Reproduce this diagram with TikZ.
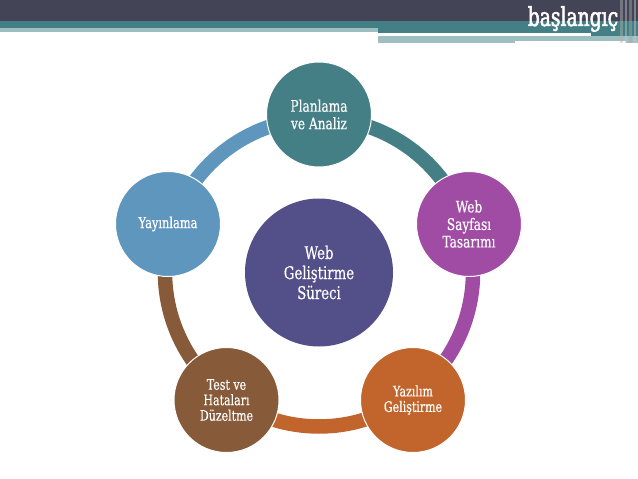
\documentclass[tikz,border=0pt]{standalone}
\usepackage{fontspec}
\setmainfont[FakeStretch=0.76,FakeBold=0.35]{DejaVu Serif}
\newfontfamily\logofont[FakeStretch=0.72,FakeBold=2]{DejaVu Serif}
\definecolor{barDark}{HTML}{444457}
\definecolor{tealMain}{HTML}{447F85}
\definecolor{tealLight}{HTML}{9FBEC2}
\definecolor{purpleNode}{HTML}{A04CA4}
\definecolor{orangeNode}{HTML}{C2652D}
\definecolor{brownNode}{HTML}{875A3A}
\definecolor{blueNode}{HTML}{5F96BE}
\definecolor{centerNode}{HTML}{534F88}
\tikzset{
  x=1pt,y=1pt,
  stage/.style={circle,draw=white,line width=1pt,minimum size=105pt,inner sep=0pt,text=white,align=center,font=\fontsize{15}{17.5}\selectfont},
  stagelarge/.style={stage,font=\fontsize{16}{17.5}\selectfont},
  stagetight/.style={stage,font=\fontsize{14.5}{15.5}\selectfont},
  core/.style={circle,fill=centerNode,minimum size=148pt,inner sep=0pt,text=white,align=center,font=\fontsize{17.5}{20}\selectfont},
  ringarc/.style={line width=14.5pt}
}
\begin{document}
\begin{tikzpicture}
\useasboundingbox (0,-479) rectangle (638,0);
\fill[white] (0,-479) rectangle (638,0);
% header
\fill[barDark] (0,-21) rectangle (638,0);
\fill[tealMain] (0,-28) rectangle (638,-21);
\fill[tealLight] (0,-31.5) rectangle (378,-28);
\fill[tealMain] (378,-33) rectangle (638,-28);
\fill[tealMain] (591,-36) rectangle (638,-33);
\fill[tealLight] (378,-43) rectangle (638,-36);
\fill[white] (515,-43) rectangle (626,-41);
\foreach \sx/\sw/\sc in {620/3/gray!60,625/2/gray!45,629/3/gray!70,634/2/gray!40}{
  \fill[\sc,opacity=.45] (\sx,-43) rectangle ({\sx+\sw},0);
}
\node[text=white,font=\logofont\fontsize{26}{26}\selectfont,inner sep=0pt] (logo) at (573,-19) {başlangıç};
% ring
\foreach \c/\a/\b in {tealMain/90/18,purpleNode/18/-54,orangeNode/-54/-126,brownNode/-126/-198,blueNode/-198/-270}{
  \draw[ringarc,draw=\c] ({319+154*cos(\a)},{-272.5+154*sin(\a)}) arc[start angle=\a,end angle=\b,radius=154pt];
}
% nodes
\node[core] (center) at (319,-272.5) {Web\\Geliştirme\\Süreci};
\node[stagelarge,fill=tealMain] (plan) at (319,-114.5) {Planlama\\ve Analiz};
\node[stagelarge,fill=purpleNode] (design) at (469,-224) {Web\\Sayfası\\Tasarımı};
\node[stagetight,fill=orangeNode] (code) at (413,-400) {Yazılım\\Geliştirme};
\node[stagetight,fill=brownNode] (test) at (226.5,-400) {Test ve\\Hataları\\Düzeltme};
\node[stage,fill=blueNode] (pub) at (168,-224) {Yayınlama};
\end{tikzpicture}
\end{document}
